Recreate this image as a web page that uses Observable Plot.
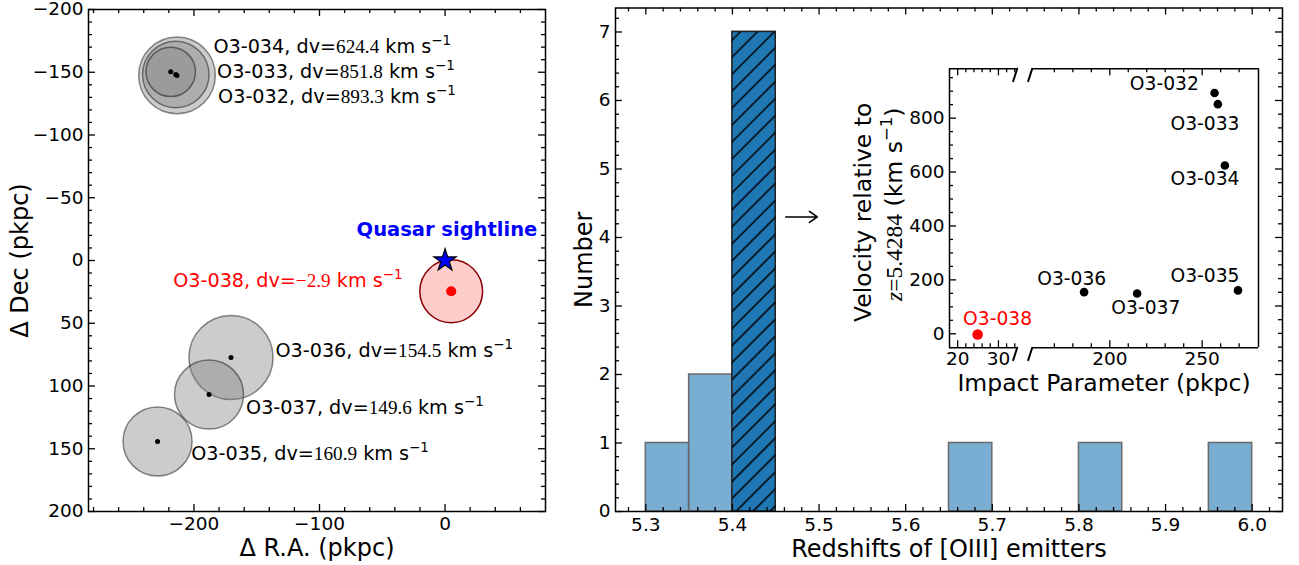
<!DOCTYPE html>
<html><head><meta charset="utf-8">
<script src="https://cdn.jsdelivr.net/npm/d3@7"></script>
<script src="https://cdn.jsdelivr.net/npm/@observablehq/plot@0.6"></script>
<style>
body{margin:0;background:#fff;}
#fig{position:relative;width:1299px;height:565px;overflow:hidden;background:#fff;}
</style></head><body>
<svg width="0" height="0" style="position:absolute">
<defs><pattern id="hatch" patternUnits="userSpaceOnUse" width="12" height="12" patternTransform="rotate(45)"><line x1="6" y1="-2" x2="6" y2="14" stroke="black" stroke-width="1.5"/></pattern></defs></svg>
<div id="fig"></div>
<script>
// ---------------- data ----------------
const galaxyNames = ["O3-032","O3-033","O3-034","O3-035","O3-036","O3-037","O3-038"];
const deltaRA = [-213.5, -214.5, -218.5, -229, -170.5, -188, 4.9];      // pkpc
const deltaDec = [-147.5, -148.2, -150.3, 144.2, 77.3, 106.8, 24.5];    // pkpc
const radiusPkpc = [30.5, 26.5, 19.7, 27.5, 33.5, 27.5, 25];
const velocityOffset = [893.3, 851.8, 624.4, 160.9, 154.5, 149.6, -2.9]; // km/s
const impactParameter = [256.7, 258.5, 262.3, 269.4, 186.1, 214.8, 24.9]; // pkpc
const mapLabelRA = [-180.8, -181.6, -184.5, -202.2, -135.1, -158.5, -33.9];
const mapLabelDec = [-130.7, -150.6, -170, 153.9, 71.7, 117.7, 16.5];
const insetLabelX = [229.5, 251.5, 251.5, 251.5, 179.4, 219.5, 29.8];
const insetLabelV = [927.6, 776.6, 575.1, 213.7, 204.1, 96.5, 55.7];
const quasarRA = [0], quasarDec = [0];
const quasarLabel = ["Quasar sightline"], quasarLabelRA = [1.5], quasarLabelDec = [-24.7];

const binStart = [5.30, 5.35, 5.40, 5.65, 5.80, 5.95];
const binEnd   = [5.35, 5.40, 5.45, 5.70, 5.85, 6.00];
const binCount = [1, 2, 7, 1, 1, 1];
const overdensityStart = [5.40], overdensityEnd = [5.45], overdensityCount = [7];
const arrowX1 = [5.4615], arrowX2 = [5.498], arrowY = [4.3];

const raTicks = [-200, -100, 0];
const decTicks = [-200, -150, -100, -50, 0, 50, 100, 150, 200];
const redshiftTicks = [5.3, 5.4, 5.5, 5.6, 5.7, 5.8, 5.9, 6.0];
const countTicks = [0, 1, 2, 3, 4, 5, 6, 7];
const impactTicksNear = [20, 30];
const impactTicksFar = [200, 250];
const velocityTicks = [0, 200, 400, 600, 800];

// ---------------- helpers ----------------
const FONT = "DejaVu Sans";
const SERIF = "Liberation Serif";
const fig = document.getElementById("fig");
const minus = v => (v < 0 ? "\u2212" : "") + Math.abs(v);
const fmtV = v => (v < 0 ? "\u2212" : "") + Math.abs(v).toFixed(1);
const baseStyle = {fontFamily: FONT, background: "transparent", overflow: "visible", color: "black"};

function tickMarks(o) {
  const out = [];
  const st = {stroke: "black", strokeWidth: 1.3};
  const ML = o.majorLen ?? 7, mL = o.minorLen ?? 4;
  for (const [vals, len] of [[o.xMajor || [], ML], [o.xMinor || [], mL]]) {
    if (o.sides.includes("bottom")) out.push(Plot.tickX(vals, {x: d => d, insetTop: o.h - len, ...st}));
    if (o.sides.includes("top")) out.push(Plot.tickX(vals, {x: d => d, insetBottom: o.h - len, ...st}));
  }
  for (const [vals, len] of [[o.yMajor || [], ML], [o.yMinor || [], mL]]) {
    if (o.sides.includes("left")) out.push(Plot.tickY(vals, {y: d => d, insetRight: o.w - len, ...st}));
    if (o.sides.includes("right")) out.push(Plot.tickY(vals, {y: d => d, insetLeft: o.w - len, ...st}));
  }
  return out;
}

function place(svg, left, top) {
  svg.style.position = "absolute";
  svg.style.left = left + "px";
  svg.style.top = top + "px";
  fig.appendChild(svg);
  richText(svg);
}

function richText(svg) {
  d3.select(svg).selectAll("text").each(function () {
    const t = this.textContent;
    const fs = parseFloat(getComputedStyle(this).fontSize) || 18;
    let parts = null, m;
    if ((m = t.match(/^(.*dv=)(.+?) km s\u207B\u00B9$/))) {
      parts = [[m[1]], [m[2], {ff: SERIF}], [" km s"], ["\u22121", {sup: true}]];
    } else if ((m = t.match(/^z(=[\d.]+)( \(km s)\u207B\u00B9(\))$/))) {
      parts = [["z", {ff: SERIF, it: true}], [m[1], {ff: SERIF}], [m[2]], ["\u22121", {sup: true}], [m[3]]];
    }
    if (!parts) return;
    this.textContent = "";
    let shifted = false;
    for (const [s, o = {}] of parts) {
      const ts = d3.select(this).append("tspan").text(s);
      if (o.ff) ts.attr("font-family", o.ff);
      if (o.it) ts.attr("font-style", "italic");
      if (o.sup) { ts.attr("font-size", fs * 0.7).attr("dy", -0.42 * fs); shifted = true; }
      else if (shifted) { ts.attr("dy", 0.42 * fs); shifted = false; }
    }
  });
}

const galaxies = galaxyNames.map((name, i) => ({
  name, ra: deltaRA[i], dec: deltaDec[i], rad: radiusPkpc[i], dv: velocityOffset[i],
  b: impactParameter[i], lra: mapLabelRA[i], ldec: mapLabelDec[i], lx: insetLabelX[i], lv: insetLabelV[i],
  label: `${name}, dv=${fmtV(velocityOffset[i])} km s\u207B\u00B9`
}));
const isTarget = d => d.name === "O3-038";
const others = galaxies.filter(d => !isTarget(d));
const target = galaxies.filter(isTarget);

const xLabelOpts = {frameAnchor: "bottom", lineAnchor: "middle", textAnchor: "middle"};
const yLabelOpts = {frameAnchor: "left", lineAnchor: "middle", textAnchor: "middle", rotate: -90};

// ---------------- left panel: sky map ----------------
{
  const W = 560, H = 565, ml = 88, mr = 15, mt = 9, mb = 54;
  const w = W - ml - mr, h = H - mt - mb;
  const raDomain = [-284, 80], decDomain = [-200, 200];
  const pxPerKpc = (w / (raDomain[1] - raDomain[0]) + h / (decDomain[1] - decDomain[0])) / 2;
  const raMinor = d3.range(-14, 4).map(i => i * 20).filter(v => v % 100 !== 0);
  const decMinor = d3.range(-19, 20).map(i => i * 10).filter(v => v % 50 !== 0);
  const quasar = quasarRA.map((x, i) => ({x, y: quasarDec[i]}));
  const qLabel = quasarLabel.map((t, i) => ({t, x: quasarLabelRA[i], y: quasarLabelDec[i]}));
  const svg = Plot.plot({
    width: W, height: H, marginLeft: ml, marginRight: mr, marginTop: mt, marginBottom: mb,
    x: {domain: raDomain, axis: null},
    y: {domain: decDomain, reverse: true, axis: null},
    r: {type: "linear", domain: [0, 100], range: [0, 100 * pxPerKpc]},
    style: baseStyle,
    marks: [
      Plot.dot(others, {x: "ra", y: "dec", r: "rad", fill: "gray", fillOpacity: 0.4, stroke: "black", strokeOpacity: 0.45, strokeWidth: 1.5}),
      Plot.dot(target, {x: "ra", y: "dec", r: "rad", fill: "red", fillOpacity: 0.2, stroke: "#8b0000", strokeWidth: 1.5}),
      Plot.dot(others, {x: "ra", y: "dec", r: 2.5, fill: "black"}),
      Plot.dot(target, {x: "ra", y: "dec", r: 5.1, fill: "red"}),
      Plot.dot(quasar, {x: "x", y: "y", symbol: "star", r: 7, fill: "blue", stroke: "black", strokeWidth: 1.2}),
      Plot.text(qLabel, {x: "x", y: "y", text: "t", fill: "blue", fontWeight: "bold", fontSize: 19.5}),
      Plot.text(others, {x: "lra", y: "ldec", text: "label", textAnchor: "start", fontSize: 19.2, fill: "black"}),
      Plot.text(target, {x: "lra", y: "ldec", text: "label", textAnchor: "end", fontSize: 19.2, fill: "red"}),
      Plot.frame({stroke: "black", strokeWidth: 1.5}),
      ...tickMarks({w, h, sides: ["bottom", "top", "left", "right"], xMajor: raTicks, xMinor: raMinor, yMajor: decTicks, yMinor: decMinor}),
      Plot.text(raTicks, {x: d => d, ...xLabelOpts, dy: 12.5, text: minus, fontSize: 18.5}),
      Plot.text(decTicks, {y: d => d, frameAnchor: "left", lineAnchor: "middle", dx: -5, textAnchor: "end", text: minus, fontSize: 18.5}),
      Plot.text(["\u0394 R.A. (pkpc)"], {...xLabelOpts, dy: 36.5, text: d => d, fontSize: 24}),
      Plot.text(["\u0394 Dec (pkpc)"], {...yLabelOpts, dx: -68, text: d => d, fontSize: 24})
    ]
  });
  place(svg, 0, 0);
}

// ---------------- middle panel: histogram ----------------
{
  const W = 739, H = 565, ml = 55, mr = 17, mt = 7.5, mb = 54;
  const w = W - ml - mr, h = H - mt - mb;
  const bins = binStart.map((s, i) => ({x1: s, x2: binEnd[i], n: binCount[i]}));
  const over = overdensityStart.map((s, i) => ({x1: s, x2: overdensityEnd[i], n: overdensityCount[i]}));
  const arrows = arrowX1.map((x, i) => ({x1: x, x2: arrowX2[i], y: arrowY[i]}));
  const zMinor = d3.range(264, 302).filter(i => i % 5 !== 0).map(i => i / 50);
  const nMinor = d3.range(1, 37).filter(i => i % 5 !== 0).map(i => i / 5);
  const svg = Plot.plot({
    width: W, height: H, marginLeft: ml, marginRight: mr, marginTop: mt, marginBottom: mb,
    x: {domain: [5.265, 6.035], axis: null},
    y: {domain: [0, 7.35], axis: null},
    style: baseStyle,
    marks: [
      Plot.rect(bins, {x1: "x1", x2: "x2", y1: d => 0, y2: "n", fill: "#1f77b4", fillOpacity: 0.6, stroke: "#6a6a6a", strokeWidth: 1.5}),
      Plot.rect(over, {x1: "x1", x2: "x2", y1: d => 0, y2: "n", fill: "#1f77b4", stroke: "#222", strokeWidth: 1.5}),
      Plot.rect(over, {x1: "x1", x2: "x2", y1: d => 0, y2: "n", fill: "url(#hatch)"}),
      Plot.arrow(arrows, {x1: "x1", x2: "x2", y1: "y", y2: "y", stroke: "black", strokeWidth: 1.6, headLength: 9, headAngle: 70}),
      Plot.frame({stroke: "black", strokeWidth: 1.5}),
      ...tickMarks({w, h, sides: ["bottom", "top", "left", "right"], xMajor: redshiftTicks, xMinor: zMinor, yMajor: countTicks, yMinor: nMinor}),
      Plot.text(redshiftTicks, {x: d => d, ...xLabelOpts, dy: 13.3, text: d => d.toFixed(1), fontSize: 18.5}),
      Plot.text(countTicks, {y: d => d, frameAnchor: "left", lineAnchor: "middle", dx: -5, textAnchor: "end", text: d => `${d}`, fontSize: 18.5}),
      Plot.text(["Redshifts of [OIII] emitters"], {...xLabelOpts, dy: 38, text: d => d, fontSize: 24}),
      Plot.text(["Number"], {...yLabelOpts, dx: -31, text: d => d, fontSize: 24})
    ]
  });
  place(svg, 560, 0);
}

// ---------------- inset: broken-axis velocity vs impact parameter ----------------
const inset = {left: 949, gapL: 1016.7, gapR: 1031.7, right: 1258, top: 68.3, bottom: 347.3};
const vDomain = [-52, 983];
const nearDomain = [18, 34.6], farDomain = [158, 280.5];
const vMinor = d3.range(1, 20).map(i => i * 50).filter(v => v % 200 !== 0);
const slash = {draw(ctx, l) { ctx.moveTo(0, l / 2); ctx.lineTo(0, -l / 2); }};
const svgTop = 40, svgH = 400;
const mt = inset.top - svgTop, ih = inset.bottom - inset.top, mb = svgH - mt - ih;
const near = galaxies.filter(d => d.b < 100), far = galaxies.filter(d => d.b >= 100);
{
  const left = 840, W = 180, ml = inset.left - left, w = inset.gapL - inset.left, mr = W - ml - w;
  const xMinor = d3.range(11, 18).map(i => i * 2).filter(v => v % 10 !== 0);
  const breaks = [{x: nearDomain[1], y: vDomain[0]}, {x: nearDomain[1], y: vDomain[1]}];
  const svg = Plot.plot({
    width: W, height: svgH, marginLeft: ml, marginRight: mr, marginTop: mt, marginBottom: mb,
    x: {domain: nearDomain, axis: null},
    y: {domain: vDomain, axis: null},
    style: baseStyle,
    marks: [
      Plot.ruleX([nearDomain[0]], {stroke: "black", strokeWidth: 1.5}),
      Plot.ruleY(vDomain, {stroke: "black", strokeWidth: 1.5}),
      Plot.vector(breaks, {x: "x", y: "y", length: 13, rotate: 18, anchor: "middle", shape: slash, stroke: "black", strokeWidth: 2}),
      ...tickMarks({w, h: ih, sides: ["bottom", "top", "left"], xMajor: impactTicksNear, xMinor, yMajor: velocityTicks, yMinor: vMinor}),
      Plot.dot(near, {x: "b", y: "dv", r: 5.3, fill: "red"}),
      Plot.text(near, {x: "lx", y: "lv", text: "name", fill: "red", fontSize: 18.7}),
      Plot.text(impactTicksNear, {x: d => d, ...xLabelOpts, dy: 11.5, text: d => `${d}`, fontSize: 18.5}),
      Plot.text(velocityTicks, {y: d => d, frameAnchor: "left", lineAnchor: "middle", dx: -5, textAnchor: "end", text: d => `${d}`, fontSize: 18.5}),
      Plot.text(["Velocity relative to"], {...yLabelOpts, dx: -86, dy: 4, text: d => d, fontSize: 23.5}),
      Plot.text(["z=5.4284 (km s\u207B\u00B9)"], {...yLabelOpts, dx: -55, dy: -4, text: d => d, fontSize: 23.5})
    ]
  });
  place(svg, left, svgTop);
}
{
  const left = 1025, W = 274, ml = inset.gapR - left, w = inset.right - inset.gapR, mr = W - ml - w;
  const xMinor = d3.range(17, 28).map(i => i * 10).filter(v => v % 50 !== 0);
  const breaks = [{x: farDomain[0], y: vDomain[0]}, {x: farDomain[0], y: vDomain[1]}];
  const labelDx = (inset.left - inset.gapR) / 2;
  const svg = Plot.plot({
    width: W, height: svgH, marginLeft: ml, marginRight: mr, marginTop: mt, marginBottom: mb,
    x: {domain: farDomain, axis: null},
    y: {domain: vDomain, axis: null},
    style: baseStyle,
    marks: [
      Plot.ruleX([farDomain[1]], {stroke: "black", strokeWidth: 1.5}),
      Plot.ruleY(vDomain, {stroke: "black", strokeWidth: 1.5}),
      Plot.vector(breaks, {x: "x", y: "y", length: 13, rotate: 18, anchor: "middle", shape: slash, stroke: "black", strokeWidth: 2}),
      ...tickMarks({w, h: ih, sides: ["bottom", "top"], xMajor: impactTicksFar, xMinor}),
      Plot.dot(far, {x: "b", y: "dv", r: 4.3, fill: "black"}),
      Plot.text(far, {x: "lx", y: "lv", text: "name", fill: "black", fontSize: 18.7}),
      Plot.text(impactTicksFar, {x: d => d, ...xLabelOpts, dy: 11.5, text: d => `${d}`, fontSize: 18.5}),
      Plot.text(["Impact Parameter (pkpc)"], {...xLabelOpts, dx: labelDx, dy: 36, text: d => d, fontSize: 23.5})
    ]
  });
  place(svg, left, svgTop);
}
</script>
</body></html>
